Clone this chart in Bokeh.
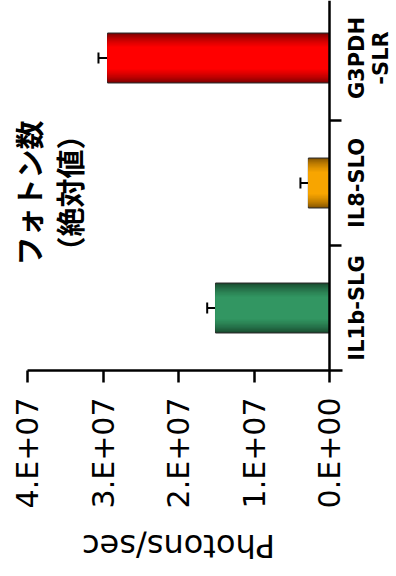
import math
from bokeh.plotting import figure
from bokeh.layouts import column
from bokeh.models import (Range1d, FixedTicker, Label, Whisker, Span,
                          TeeHead, ColumnDataSource)
from bokeh.core.properties import value
from bokeh.embed import file_html
from bokeh.resources import INLINE

# ---- data ----
categories = ["IL1b-SLG", "IL8-SLO", "G3PDH\n-SLR"]
values = [1.51e7, 2.8e6, 2.94e7]
errors = [1.1e6, 1.05e6, 1.2e6]
value_ticks = [0, 10000000, 20000000, 30000000, 40000000]
value_tick_labels = ["0.E+00", "1.E+07", "2.E+07", "3.E+07", "4.E+07"]
title_lines = ["フォトン数", "（絶対値）"]
axis_title = "Photons/sec"

# ---- styles ----
base_colors = [(50, 150, 98), (248, 165, 0), (255, 0, 0)]
dark_colors = [(20, 62, 38), (115, 72, 0), (105, 0, 0)]


def hexc(c):
    return "#%02x%02x%02x" % tuple(int(round(v)) for v in c)


positions = [i + 0.5 for i in range(len(categories))]
boundaries = [i for i in range(1, len(categories))]

# value scale: 4e7..0 spans 302 px; extra room left (title) and right (category labels)
px_per_val = 302 / 40000000
left_extra = 12 / px_per_val
right_extra = 67 / px_per_val
xr = Range1d(40000000 + left_extra, -right_extra)

p = figure(frame_width=381, frame_height=370,
           x_range=xr, y_range=Range1d(0, 2.96),
           output_backend="svg", toolbar_location=None,
           min_border_left=15, min_border_right=0, min_border_top=0,
           min_border_bottom=145, y_axis_location=None)
p.grid.visible = False
p.outline_line_color = None
p.background_fill_color = "white"
p.border_fill_color = "white"

# value axis (below)
xa = p.xaxis[0]
xa.ticker = FixedTicker(ticks=value_ticks)
xa.bounds = (-13 / px_per_val, 40000000)
xa.major_label_overrides = {int(t): lab for t, lab in zip(value_ticks, value_tick_labels)}
xa.major_label_orientation = math.pi / 2
xa.major_label_text_font = "DejaVu Sans"
xa.major_label_text_font_size = "30px"
xa.major_label_text_color = "black"
xa.major_label_standoff = 15
xa.major_tick_out = 12
xa.major_tick_in = 0
xa.minor_tick_line_color = None
xa.axis_line_width = 2.5
xa.major_tick_line_width = 2.5
xa.axis_line_color = "black"
xa.major_tick_line_color = "black"

# shaded bars (layers from dark edge to bright core)
n_layers = 14
for k in range(n_layers):
    t = k / (n_layers - 1)
    h = 0.4 * (1 - 0.55 * t)
    m = min(1.0, t ** 0.6)
    cols = [hexc([d + (b - d) * m for b, d in zip(bc, dc)])
            for bc, dc in zip(base_colors, dark_colors)]
    src = ColumnDataSource(dict(y=positions, right=values, color=cols))
    p.hbar(y="y", left=0, right="right", height=h, fill_color="color",
           line_color=("#303030" if k == 0 else None), line_width=1, source=src)

# category axis at zero, with ticks between categories
p.add_layout(Span(location=0, dimension="height", line_color="black", line_width=2.5))
p.ray(x=0, y=boundaries, length=12, length_units="screen", angle=0,
      line_color="black", line_width=2.5)

# category labels
p.text(x=0, y=positions, text=categories, x_offset=15, angle=math.pi / 2,
       text_align="center", text_baseline="top",
       text_font=value("DejaVu Sans"), text_font_style="bold",
       text_font_size="21px", text_color="black", text_line_height=1.0)

# error bars
esrc = ColumnDataSource(dict(base=positions, lower=values,
                             upper=[v + e for v, e in zip(values, errors)]))
p.add_layout(Whisker(source=esrc, base="base", lower="lower", upper="upper",
                     dimension="width", line_width=2, line_color="black",
                     upper_head=TeeHead(size=11, line_width=2, line_color="black"),
                     lower_head=None))

# title inside plot (two vertical lines)
for line, xv in zip(title_lines, [39900000, 34500000]):
    p.add_layout(Label(x=xv, y=1.42, text=line, angle=math.pi / 2,
                       text_align="center", text_baseline="middle",
                       text_font="Noto Sans CJK JP", text_font_style="bold",
                       text_font_size="29px", text_color="black"))

# value-axis title, upside down, in a strip under the chart
p2 = figure(frame_width=381, frame_height=60, x_range=xr, y_range=Range1d(0, 1),
            output_backend="svg", toolbar_location=None,
            min_border_left=15, min_border_right=0, min_border_top=0,
            min_border_bottom=0, x_axis_location=None, y_axis_location=None)
p2.grid.visible = False
p2.outline_line_color = None
p2.add_layout(Label(x=20000000, y=0.5, text=axis_title, angle=math.pi,
                    text_align="center", text_baseline="middle",
                    text_font="DejaVu Sans", text_font_size="32px",
                    text_color="black"))

open("out.html", "w").write(file_html(column(p, p2), INLINE))
